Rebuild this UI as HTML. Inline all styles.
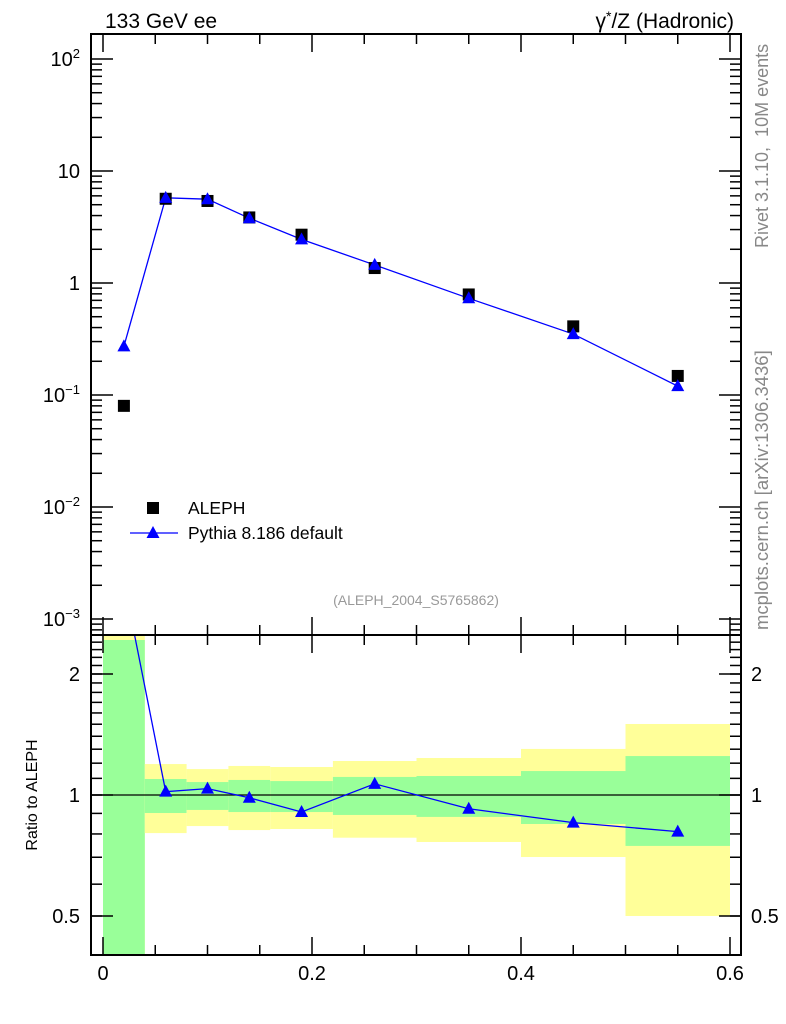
<!DOCTYPE html>
<html><head><meta charset="utf-8"><style>
body{margin:0;background:#fff;}
svg{display:block;font-family:"Liberation Sans",sans-serif;}
</style></head><body>
<svg id="c" width="786" height="1024" viewBox="0 0 786 1024">
<text x="105" y="28" font-size="21">133 GeV ee</text>
<text x="734" y="28" font-size="21" text-anchor="end">γ<tspan dy="-7" font-size="14">*</tspan><tspan dy="7">/Z (Hadronic)</tspan></text>
<text transform="translate(768,248) rotate(-90)" font-size="18" fill="#888">Rivet 3.1.10,&#160; 10M events</text>
<text transform="translate(768,630) rotate(-90)" font-size="18.5" fill="#888">mcplots.cern.ch [arXiv:1306.3436]</text>
<text x="416" y="605" font-size="14" fill="#999" text-anchor="middle">(ALEPH_2004_S5765862)</text>
<text transform="translate(37,795) rotate(-90)" font-size="16" text-anchor="middle">Ratio to ALEPH</text>
<g id="bands"></g><g id="marks"></g><g id="axes"></g>
<g>
<rect x="147" y="502" width="12" height="12" fill="#000"/>
<text x="188" y="514" font-size="17.5">ALEPH</text>
<line x1="130" y1="533" x2="178" y2="533" stroke="#00f" stroke-width="1.3"/>
<polygon points="153,526 159.5,538 146.5,538" fill="#00f"/>
<text x="188" y="539" font-size="17.5">Pythia 8.186 default</text>
</g>
</svg>
<script>
const binLo=[0,0.04,0.08,0.12,0.16,0.22,0.3,0.4,0.5];
const binHi=[0.04,0.08,0.12,0.16,0.22,0.3,0.4,0.5,0.6];
const xCenters=[0.02,0.06,0.1,0.14,0.19,0.26,0.35,0.45,0.55];
const alephVals=[0.08,5.65,5.4,3.85,2.7,1.36,0.79,0.41,0.148];
const pythiaVals=[0.272,5.76,5.6,3.79,2.45,1.45,0.73,0.35,0.12];
const statUp=[2.43,1.096,1.077,1.09,1.083,1.109,1.115,1.147,1.25];
const statDn=[0.3,0.902,0.918,0.907,0.907,0.892,0.882,0.847,0.747];
const totUp=[3.0,1.194,1.16,1.181,1.174,1.215,1.236,1.302,1.502];
const totDn=[0.2,0.804,0.837,0.818,0.823,0.783,0.764,0.701,0.5];
const xTicks=[0,0.2,0.4,0.6];
const xTickLabels=["0","0.2","0.4","0.6"];
const mainDecades=[-3,-2,-1,0,1,2];
const mainDecadeLabels=["10<tspan dy='-8' font-size='13'>−3</tspan>","10<tspan dy='-8' font-size='13'>−2</tspan>","10<tspan dy='-8' font-size='13'>−1</tspan>","1","10","10<tspan dy='-8' font-size='13'>2</tspan>"];
const ratioTicks=[0.5,1,2];
const ratioTickLabels=["0.5","1","2"];

const L=91,R=741,T=34,M=635,B=955;
const X=v=>103+v*1045;
const Y=v=>283-Math.log10(v)*112;
const YR=v=>Math.max(T+601,Math.min(B,795-Math.log2(v)*121));
const YRraw=v=>795-Math.log2(v)*121;
const NS="http://www.w3.org/2000/svg";
function mk(tag,attrs,parent){const e=document.createElementNS(NS,tag);for(const k in attrs)e.setAttribute(k,attrs[k]);parent.appendChild(e);return e;}
const bands=document.getElementById('bands'),marks=document.getElementById('marks'),axes=document.getElementById('axes');

for(let i=0;i<binLo.length;i++){
  const y1=YR(totUp[i]),y2=YR(totDn[i]);
  const r=mk('rect',{x:X(binLo[i]),y:y1,width:X(binHi[i])-X(binLo[i]),height:y2-y1,fill:'#ffff99'},bands);
  
  
  const g1=YR(statUp[i]),g2=YR(statDn[i]);
  const g=mk('rect',{x:X(binLo[i]),y:g1,width:X(binHi[i])-X(binLo[i]),height:g2-g1,fill:'#99ff99'},bands);
  
  
}
const one=mk('line',{x1:L,x2:R,y1:YRraw(1),y2:YRraw(1),stroke:'#000','stroke-width':1.3},marks);



const pl=mk('polyline',{points:xCenters.map((x,i)=>X(x)+','+Y(pythiaVals[i])).join(' '),fill:'none',stroke:'#00f','stroke-width':1.3},marks);


const ratios=pythiaVals.map((v,i)=>v/alephVals[i]);
const cp=mk('clipPath',{id:'rc'},marks);mk('rect',{x:L,y:M,width:R-L,height:B-M},cp);
const rl=mk('polyline',{points:xCenters.map((x,i)=>X(x)+','+YRraw(ratios[i])).join(' '),fill:'none',stroke:'#00f','stroke-width':1.3,'clip-path':'url(#rc)'},marks);


function tri(x,y,name){const t=mk('polygon',{points:`${x},${y-7} ${x+6.5},${y+5} ${x-6.5},${y+5}`,fill:'#00f'},marks);
  
  }
for(let i=0;i<xCenters.length;i++){
  const s=mk('rect',{x:X(xCenters[i])-6,y:Y(alephVals[i])-6,width:12,height:12,fill:'#000'},marks);
  
  
  tri(X(xCenters[i]),Y(pythiaVals[i]),'pythia-point');
  if(ratios[i]<2.5) tri(X(xCenters[i]),YRraw(ratios[i]),'ratio-point');
}

for(const [y1,y2,n] of [[T,M,'main-frame'],[M,B,'ratio-frame']]){
  const f=mk('rect',{x:L,y:y1,width:R-L,height:y2-y1,fill:'none',stroke:'#000','stroke-width':2},axes);
  
  
}
function tk(x1,y1,x2,y2){mk('line',{x1,y1,x2,y2,stroke:'#000','stroke-width':1.5},axes);}
for(let v=0;v<=0.6001;v+=0.05){
  const maj=Math.abs(v*5-Math.round(v*5))<1e-6, len=maj?18:10, x=X(v);
  tk(x,T,x,T+len);tk(x,M,x,M-len);tk(x,M,x,M+len);tk(x,B,x,B-len);
}
xTicks.forEach((v,i)=>{const t=mk('text',{x:X(v),y:980,'font-size':20,'text-anchor':'middle'},axes);t.textContent=xTickLabels[i];
  
  });
mainDecades.forEach((d,i)=>{
  const y=Y(Math.pow(10,d));
  tk(L,y,L+22,y);tk(R,y,R-22,y);
  const t=mk('text',{x:80,y:y+7,'font-size':20,'text-anchor':'end'},axes);t.innerHTML=mainDecadeLabels[i];
  
  
  for(let k=2;k<=9;k++){const yy=Y(k*Math.pow(10,d));if(yy>T&&yy<M){tk(L,yy,L+11,yy);tk(R,yy,R-11,yy);}}
});
for(let k=2;k<=9;k++){const yy=Y(k*0.0001);if(yy>T&&yy<M){tk(L,yy,L+11,yy);tk(R,yy,R-11,yy);}}
for(let v=0.4;v<=2.51;v+=0.1){const y=YRraw(v);if(y>M+1&&y<B-1){tk(L,y,L+11,y);tk(R,y,R-11,y);}}
ratioTicks.forEach((v,i)=>{const y=YRraw(v);tk(L,y,L+22,y);tk(R,y,R-22,y);
  const t=mk('text',{x:80,y:y+7,'font-size':20,'text-anchor':'end'},axes);t.textContent=ratioTickLabels[i];
  
  
  const t2=mk('text',{x:751,y:y+7,'font-size':20},axes);t2.textContent=ratioTickLabels[i];
  
  });
</script>
</body></html>
